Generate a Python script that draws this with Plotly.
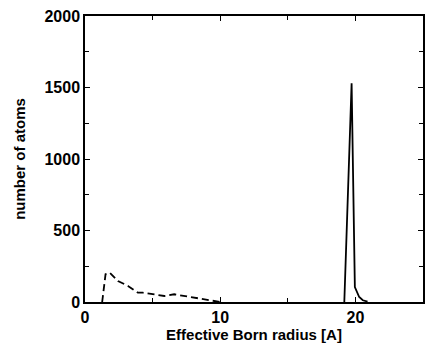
import plotly.graph_objects as go

# dashed series (low-radius distribution)
dash_x = [1.27, 1.52, 1.83, 2.44, 3.18, 3.91, 4.28, 5.13, 5.87, 6.6, 7.33, 8.3, 9.17, 10.0]
dash_y = [0, 194, 205, 147, 112, 65, 65, 54, 42, 54, 42, 30, 12, 0]

# solid series (sharp peak near 20 A)
solid_x = [19.18, 19.72, 19.96, 20.1, 20.28, 20.55, 20.9]
solid_y = [0, 1530, 105, 70, 35, 12, 3]

x_ticks = [0, 10, 20]
y_ticks = [0, 500, 1000, 1500, 2000]

font = "Arial"

fig = go.Figure()
fig.add_trace(go.Scatter(x=dash_x, y=dash_y, mode="lines",
                         line=dict(color="black", width=1.8, dash="7px,4px"),
                         showlegend=False))
fig.add_trace(go.Scatter(x=solid_x, y=solid_y, mode="lines",
                         line=dict(color="black", width=1.8),
                         showlegend=False))

axis_common = dict(showgrid=False, zeroline=False, showline=True, linecolor="black",
                   linewidth=1.5, mirror="ticks", ticks="inside", ticklen=5,
                   tickcolor="black", tickwidth=1.2,
                   tickfont=dict(family=font, size=16, color="black", weight="bold"))

fig.update_layout(
    width=426, height=346,
    margin=dict(l=85, r=1, t=16, b=44),
    paper_bgcolor="white", plot_bgcolor="white",
    xaxis=dict(range=[0, 25], tickvals=x_ticks,
               minor=dict(tickvals=[5, 15], ticks="inside", ticklen=4, tickcolor="black"),
               title=dict(text="Effective Born radius [A]",
                          font=dict(family=font, size=15, color="black", weight="bold"), standoff=3),
               **axis_common),
    yaxis=dict(range=[0, 2000], tickvals=y_ticks,
               minor=dict(tickvals=[250, 750, 1250, 1750], ticks="inside", ticklen=4, tickcolor="black"),
               title=dict(text="number of atoms",
                          font=dict(family=font, size=15, color="black", weight="bold"), standoff=15),
               **axis_common),
)

fig.write_html("out.html")
